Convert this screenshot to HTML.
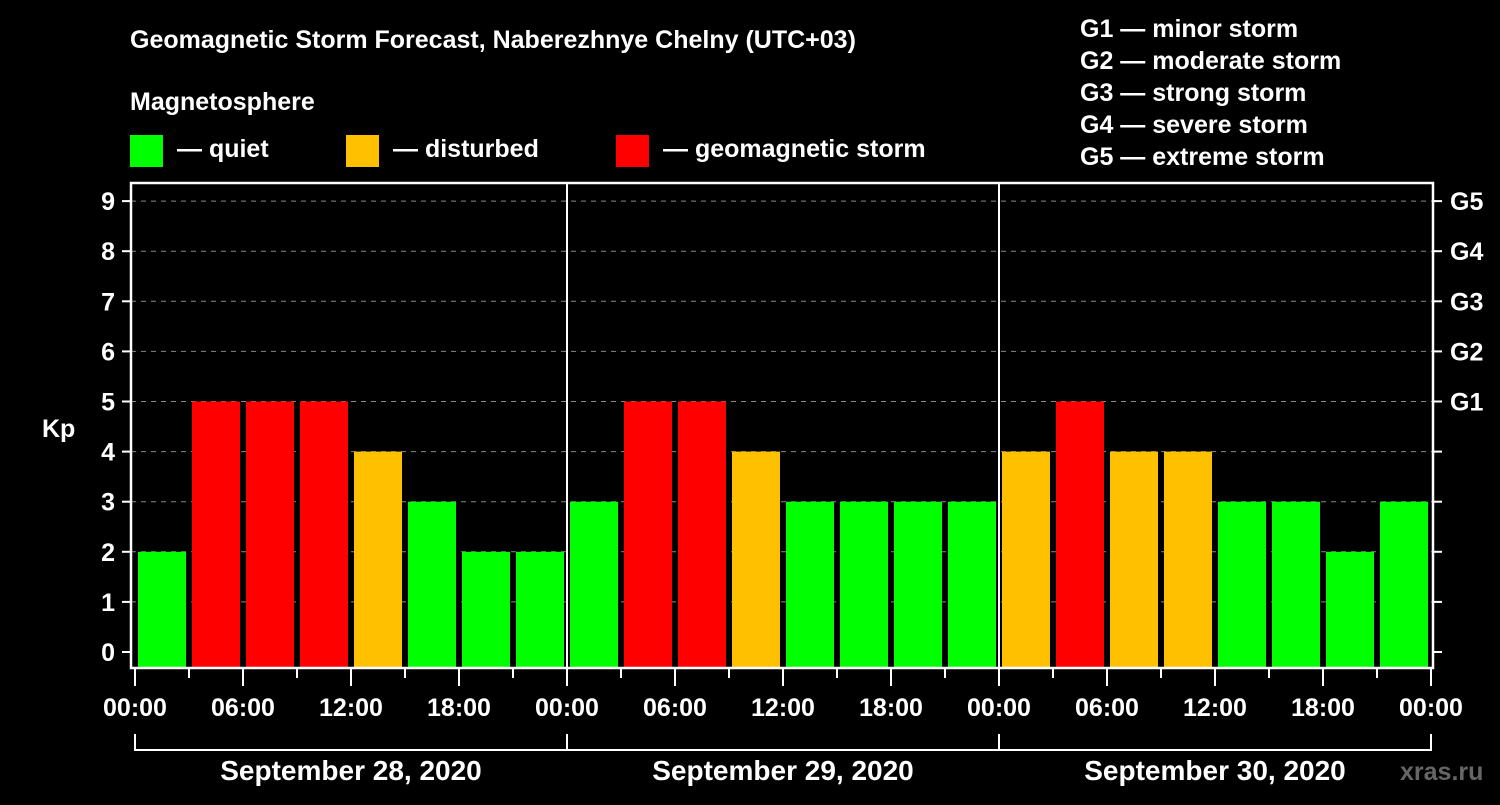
<!DOCTYPE html>
<html><head><meta charset="utf-8"><style>
body{margin:0;background:#000;width:1500px;height:800px;overflow:hidden}
svg text{font-family:"Liberation Sans",sans-serif;font-weight:bold;fill:#fff}
</style></head><body>
<svg width="1500" height="800">
<text x="130" y="48" font-size="25">Geomagnetic Storm Forecast, Naberezhnye Chelny (UTC+03)</text>
<text x="130" y="110" font-size="25">Magnetosphere</text>
<g><rect x="130" y="135" width="33" height="32" fill="#00ff00"/><text x="177" y="157" font-size="25">— quiet</text></g>
<g><rect x="346" y="135" width="33" height="32" fill="#ffc000"/><text x="393" y="157" font-size="25">— disturbed</text></g>
<g><rect x="616" y="135" width="33" height="32" fill="#ff0000"/><text x="663" y="157" font-size="25">— geomagnetic storm</text></g>
<g font-size="25">
<text x="1080" y="37">G1 — minor storm</text>
<text x="1080" y="69">G2 — moderate storm</text>
<text x="1080" y="101">G3 — strong storm</text>
<text x="1080" y="133">G4 — severe storm</text>
<text x="1080" y="165">G5 — extreme storm</text>
</g>
<text x="42" y="437" font-size="25">Kp</text>
<text x="1400" y="780" font-size="25" fill="#555" style="fill:#666">xras.ru</text>
<g id="plot"></g>
</svg>
<script>
const kpValues=[2,5,5,5,4,3,2,2, 3,5,5,4,3,3,3,3, 4,5,4,4,3,3,2,3];
const dayLabels=["September 28, 2020","September 29, 2020","September 30, 2020"];
const hourLabels=["00:00","06:00","12:00","18:00"];
const gLabels=["G1","G2","G3","G4","G5"];
const NS="http://www.w3.org/2000/svg";
const g=document.getElementById('plot');
const X0=135,SLOT=54,Y0=652,PU=50.1,TOP=183,BOT=668,L=131,R=1433;
const xs=i=>X0+i*SLOT, ys=v=>Y0-v*PU;
function mk(t,a,txt){const e=document.createElementNS(NS,t);for(const k in a)e.setAttribute(k,a[k]);if(txt!=null)e.textContent=txt;g.appendChild(e);return e;}
for(let v=0;v<=9;v++){
 if(v>0){const e=mk('line',{x1:L,x2:R,y1:ys(v),y2:ys(v),stroke:'#888','stroke-dasharray':'5,5'});
 
 }
 mk('line',{x1:122,x2:L,y1:ys(v),y2:ys(v),stroke:'#fff','stroke-width':2});
 mk('line',{x1:R,x2:1442,y1:ys(v),y2:ys(v),stroke:'#fff','stroke-width':2});
 const t=mk('text',{x:115,y:ys(v)+9,'font-size':25,'text-anchor':'end'},v);
 
 
}
gLabels.forEach((s,i)=>{const t=mk('text',{x:1450,y:ys(5+i)+9,'font-size':25},s);
 
 });
kpValues.forEach((v,i)=>{
 const c=v>=5?'#ff0000':v>=4?'#ffc000':'#00ff00';
 const r=mk('rect',{x:xs(i)+3,y:ys(v),width:48,height:BOT-ys(v),fill:c});
 
 
});
mk('rect',{x:L,y:TOP,width:R-L,height:BOT-TOP,fill:'none',stroke:'#fff','stroke-width':2.5});
for(let d=1;d<3;d++)mk('line',{x1:xs(d*8),x2:xs(d*8),y1:TOP,y2:BOT,stroke:'#fff','stroke-width':2});
for(let i=0;i<=24;i++){
 const major=i%2==0;
 mk('line',{x1:xs(i),x2:xs(i),y1:BOT,y2:major?686:678,stroke:'#fff','stroke-width':2});
 if(major){const t=mk('text',{x:xs(i),y:716,'font-size':25,'text-anchor':'middle'},hourLabels[(i/2)%4]);
 
 }
}
mk('path',{d:`M${xs(0)} 734V750H${xs(24)}V734`,fill:'none',stroke:'#fff','stroke-width':2});
for(let d=1;d<3;d++)mk('line',{x1:xs(d*8),x2:xs(d*8),y1:734,y2:750,stroke:'#fff','stroke-width':2});
dayLabels.forEach((s,d)=>{const t=mk('text',{x:xs(d*8+4),y:780,'font-size':28,'text-anchor':'middle'},s);
 
 });
</script>
</body></html>
